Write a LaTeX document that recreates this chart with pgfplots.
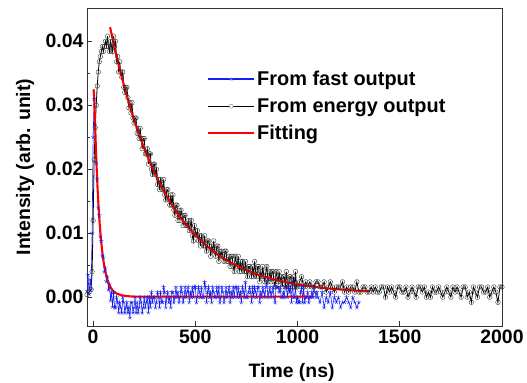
\documentclass[border=0pt]{standalone}
\usepackage{fontspec}
\setmainfont{Liberation Sans}
\usepackage{pgfplots}
\pgfplotsset{compat=1.18}
\definecolor{fastblue}{RGB}{20,30,240}
\newcommand{\bigf}{\fontsize{19.5}{23}\selectfont\bfseries}
\newcommand{\legf}{\fontsize{20}{23}\selectfont\bfseries}
\begin{document}
\begin{tikzpicture}
\begin{axis}[
  set layers,
  scale only axis, width=415bp, height=318bp,
  xmin=-30, xmax=2000, ymin=-0.0045, ymax=0.0452,
  xtick={0,500,1000,1500,2000},
  ytick={0,0.01,0.02,0.03,0.04},
  minor y tick num=1,
  tick pos=left, tick align=inside,
  major tick length=5bp, minor tick length=3bp,
  scaled y ticks=false,
  /pgf/number format/assume math mode=true,
  xticklabel style={/pgf/number format/1000 sep={}},
  yticklabel style={/pgf/number format/.cd,fixed,fixed zerofill,precision=2},
  tick label style={font=\bigf},
  label style={font=\bigf},
  axis line style={line width=0.9bp, black!80},
  every tick/.style={line width=0.8bp, black!80},
  xlabel={Time (ns)}, ylabel={Intensity (arb. unit)},
  xlabel style={at={(axis description cs:0.493,-0.145)},anchor=center},
  ylabel style={at={(axis description cs:-0.149,0.5)},anchor=center},
  legend style={at={(axis description cs:0.289,0.808)}, anchor=north west, draw=none, fill=none, font=\legf, row sep=7.5bp, inner sep=0pt},
  legend cell align=left,
]
% fast output data
\addplot[fastblue, line width=0.6bp, mark=star, mark size=2.3bp, mark options={line width=0.35bp},
  legend image code/.code={\path[draw=fastblue, line width=1.6bp] (0bp,0bp) -- (46bp,0bp); \path[draw=blue!50, line width=0.4bp] plot[mark=star, mark size=2bp] coordinates {(23bp,0bp)};}] coordinates {
(-30,0.0010)(-25,0.0035)(-20,0.0005)(-15,0.0028)(-10,0.0012)(-5,0.0100)(0,0.0250)(5,0.0310)(10,0.0270)(15,0.0210)(20,0.0185)(25,0.0140)(30,0.0128)(35,0.0095)(40,0.0088)(45,0.0065)(50,0.0062)(55,0.0040)(60,0.0045)(65,0.0025)(70,0.0032)(75,0.0012)(80,0.0020)(85,-0.0005)(90,0.0008)(95,-0.0015)
(100,0.0008)(105,-0.0016)(110,-0.0016)(115,0.0000)(120,-0.0008)(125,-0.0024)(130,-0.0008)(135,-0.0016)(140,-0.0024)(145,0.0000)
(150,-0.0008)(155,-0.0024)(160,-0.0016)(165,-0.0008)(170,-0.0024)(175,-0.0016)(180,-0.0032)(185,-0.0008)(190,-0.0008)(195,-0.0024)
(200,-0.0016)(205,0.0000)(210,-0.0024)(215,-0.0008)(220,-0.0024)(225,-0.0016)(230,0.0000)(235,-0.0008)(240,-0.0024)(245,-0.0016)
(250,0.0000)(255,-0.0016)(260,-0.0008)(265,0.0000)(270,-0.0024)(275,0.0000)(280,-0.0016)(285,0.0008)(290,-0.0008)(295,0.0000)
(300,0.0000)(305,-0.0016)(310,-0.0008)(315,0.0008)(320,0.0000)(325,-0.0016)(330,0.0008)(335,-0.0008)(340,-0.0008)(345,0.0016)
(350,0.0008)(355,-0.0016)(360,0.0000)(365,0.0008)(370,-0.0008)(375,0.0000)(380,-0.0016)(385,0.0008)(390,0.0008)(395,-0.0008)
(400,0.0000)(405,0.0016)(410,0.0000)(415,0.0008)(420,-0.0008)(425,0.0000)(430,0.0016)(435,0.0008)(440,-0.0008)(445,0.0000)
(450,0.0016)(455,0.0000)(460,0.0008)(465,0.0016)(470,-0.0008)(475,0.0008)(480,0.0000)(485,0.0016)(490,0.0000)(495,0.0016)
(500,0.0016)(505,-0.0008)(510,0.0000)(515,0.0016)(520,0.0008)(525,0.0000)(530,0.0016)(535,0.0000)(540,0.0000)(545,0.0024)
(550,0.0016)(555,-0.0008)(560,0.0008)(565,0.0016)(570,0.0000)(575,0.0008)(580,-0.0008)(585,0.0016)(590,0.0008)(595,0.0000)
(600,0.0000)(605,0.0016)(610,0.0000)(615,0.0016)(620,-0.0008)(625,0.0000)(630,0.0016)(635,0.0008)(640,-0.0008)(645,0.0000)
(650,0.0016)(655,0.0000)(660,0.0008)(665,0.0016)(670,-0.0008)(675,0.0008)(680,0.0000)(685,0.0016)(690,0.0000)(695,0.0016)
(700,0.0016)(705,0.0000)(710,0.0016)(715,0.0000)(720,0.0008)(725,-0.0008)(730,0.0016)(735,0.0008)(740,0.0000)(745,0.0024)
(750,0.0000)(755,0.0000)(760,0.0008)(765,0.0016)(770,0.0008)(775,-0.0008)(780,0.0016)(785,0.0000)(790,0.0016)(795,0.0008)
(800,0.0000)(805,0.0016)(810,0.0016)(815,-0.0008)(820,0.0008)(825,0.0000)(830,0.0016)(835,0.0008)(840,0.0000)(845,0.0016)
(850,0.0024)(855,0.0000)(860,0.0008)(865,0.0016)(870,0.0000)(875,0.0008)(880,0.0016)(885,0.0000)(890,-0.0008)(895,0.0016)
(900,0.0016)(905,0.0016)(910,0.0008)(915,0.0016)(920,0.0000)(925,0.0000)(930,0.0008)(935,0.0000)(940,0.0016)(945,0.0016)
(950,0.0000)(955,0.0016)(960,0.0008)(965,0.0016)(970,-0.0008)(975,0.0024)(980,0.0000)(985,0.0000)(990,0.0016)(995,-0.0008)
(1000,0.0000)(1005,-0.0008)(1010,-0.0008)(1015,0.0008)(1020,0.0016)(1025,-0.0008)(1030,0.0016)(1035,-0.0008)(1040,0.0000)(1045,0.0000)
(1050,0.0008)(1055,-0.0008)(1060,0.0000)(1065,0.0000)(1070,0.0008)(1075,0.0000)(1080,0.0016)(1085,0.0008)(1090,0.0000)(1095,0.0008)
(1100,0.0000)(1110,-0.0008)(1120,0.0008)(1130,-0.0016)(1140,0.0000)(1150,-0.0008)(1160,0.0008)(1170,-0.0016)(1180,0.0000)(1190,-0.0008)
(1200,0.0000)(1210,-0.0016)(1220,-0.0008)(1230,-0.0008)(1240,0.0000)(1250,-0.0008)(1260,-0.0016)(1270,0.0000)(1280,-0.0008)(1290,-0.0016)(1300,-0.0008)
};
\addlegendentry{From fast output}

% energy output data, drawn beneath the fast output
\addplot[on layer=axis background, black, line width=0.8bp, mark=o, mark size=2.3bp, mark options={line width=0.35bp, draw=black!85},
  legend image code/.code={\path[draw=black, line width=0.6bp] (0bp,0bp) -- (46bp,0bp); \path[draw=gray, fill=white, line width=0.4bp] (23bp,0bp) circle[radius=2bp];}] coordinates {
(-30,0.0004)(-20,0.0008)(-10,0.0012)(-5,0.0040)(0,0.0120)(5,0.0215)(10,0.0265)(15,0.0300)(20,0.0330)(25,0.0352)(30,0.0368)(35,0.0376)(40,0.0384)(45,0.0392)(50,0.0384)(55,0.0392)(60,0.0400)(65,0.0392)(70,0.0408)(75,0.0392)(80,0.0384)(85,0.0400)(90,0.0392)(95,0.0384)
(100,0.0408)(105,0.0392)(110,0.0400)(115,0.0368)(120,0.0376)(125,0.0352)(130,0.0368)(135,0.0352)(140,0.0344)(145,0.0352)
(150,0.0328)(155,0.0320)(160,0.0328)(165,0.0328)(170,0.0312)(175,0.0296)(180,0.0304)(185,0.0288)(190,0.0304)(195,0.0280)
(200,0.0272)(205,0.0280)(210,0.0280)(215,0.0256)(220,0.0264)(225,0.0248)(230,0.0264)(235,0.0248)(240,0.0232)(245,0.0248)
(250,0.0248)(255,0.0224)(260,0.0224)(265,0.0232)(270,0.0208)(275,0.0224)(280,0.0224)(285,0.0200)(290,0.0192)(295,0.0208)
(300,0.0208)(305,0.0192)(310,0.0200)(315,0.0176)(320,0.0184)(325,0.0168)(330,0.0184)(335,0.0176)(340,0.0168)(345,0.0184)
(350,0.0160)(355,0.0152)(360,0.0168)(365,0.0168)(370,0.0152)(375,0.0144)(380,0.0160)(385,0.0144)(390,0.0160)(395,0.0136)
(400,0.0128)(405,0.0144)(410,0.0144)(415,0.0120)(420,0.0136)(425,0.0120)(430,0.0136)(435,0.0128)(440,0.0112)(445,0.0128)
(450,0.0128)(455,0.0112)(460,0.0112)(465,0.0120)(470,0.0104)(475,0.0112)(480,0.0120)(485,0.0096)(490,0.0088)(495,0.0112)
(500,0.0104)(505,0.0096)(510,0.0104)(515,0.0088)(520,0.0096)(525,0.0080)(530,0.0096)(535,0.0088)(540,0.0080)(545,0.0096)
(550,0.0080)(555,0.0072)(560,0.0088)(565,0.0088)(570,0.0080)(575,0.0064)(580,0.0080)(585,0.0072)(590,0.0088)(595,0.0072)
(600,0.0064)(605,0.0080)(610,0.0080)(615,0.0056)(620,0.0072)(625,0.0064)(630,0.0072)(635,0.0064)(640,0.0056)(645,0.0072)
(650,0.0072)(655,0.0056)(660,0.0056)(665,0.0064)(670,0.0048)(675,0.0064)(680,0.0064)(685,0.0048)(690,0.0040)(695,0.0064)
(700,0.0056)(705,0.0048)(710,0.0064)(715,0.0040)(720,0.0056)(725,0.0040)(730,0.0056)(735,0.0048)(740,0.0040)(745,0.0056)
(750,0.0040)(755,0.0032)(760,0.0048)(765,0.0048)(770,0.0040)(775,0.0032)(780,0.0048)(785,0.0032)(790,0.0056)(795,0.0040)
(800,0.0032)(805,0.0048)(810,0.0048)(815,0.0024)(820,0.0040)(825,0.0032)(830,0.0048)(835,0.0032)(840,0.0024)(845,0.0040)
(850,0.0048)(855,0.0024)(860,0.0032)(865,0.0040)(870,0.0024)(875,0.0040)(880,0.0040)(885,0.0024)(890,0.0016)(895,0.0040)
(900,0.0032)(905,0.0024)(910,0.0040)(915,0.0024)(920,0.0032)(925,0.0016)(930,0.0032)(935,0.0032)(940,0.0016)(945,0.0040)
(950,0.0024)(955,0.0016)(960,0.0032)(965,0.0032)(970,0.0024)(975,0.0016)(980,0.0032)(985,0.0016)(990,0.0040)(995,0.0016)
(1000,0.0016)(1010,0.0024)(1020,0.0032)(1030,0.0016)(1040,0.0024)(1050,0.0016)(1060,0.0024)(1070,0.0016)(1080,0.0016)(1090,0.0024)
(1100,0.0024)(1110,0.0016)(1120,0.0016)(1130,0.0024)(1140,0.0008)(1150,0.0016)(1160,0.0024)(1170,0.0016)(1180,0.0008)(1190,0.0016)
(1200,0.0016)(1210,0.0016)(1220,0.0024)(1230,0.0008)(1240,0.0016)(1250,0.0008)(1260,0.0016)(1270,0.0016)(1280,0.0008)(1290,0.0024)
(1300,0.0008)(1310,0.0008)(1320,0.0016)(1330,0.0016)(1340,0.0008)(1350,0.0008)(1360,0.0016)(1370,0.0008)(1380,0.0016)(1390,0.0008)
(1400,0.0008)(1410,0.0016)(1420,0.0016)(1430,0.0000)(1440,0.0016)(1450,0.0008)(1460,0.0016)(1470,0.0008)(1480,0.0000)(1490,0.0016)
(1500,0.0016)(1510,0.0008)(1520,0.0008)(1530,0.0016)(1540,0.0000)(1550,0.0008)(1560,0.0016)(1570,0.0008)(1580,0.0000)(1590,0.0016)
(1600,0.0016)(1610,0.0008)(1620,0.0016)(1630,0.0000)(1640,0.0008)(1650,0.0000)(1660,0.0016)(1670,0.0008)(1680,0.0008)(1690,0.0016)
(1700,0.0008)(1710,0.0000)(1720,0.0008)(1730,0.0016)(1740,0.0008)(1750,0.0000)(1760,0.0016)(1770,0.0008)(1780,0.0016)(1790,0.0008)
(1800,0.0000)(1810,0.0016)(1820,0.0016)(1830,0.0000)(1840,0.0008)(1850,-0.0008)(1860,0.0016)(1870,0.0008)(1880,0.0000)(1890,0.0016)
(1900,0.0016)(1910,0.0008)(1920,0.0008)(1930,0.0016)(1940,0.0000)(1950,0.0008)(1960,0.0016)(1970,0.0008)(1980,-0.0008)(1990,0.0016)(2000,0.0016)
};
\addlegendentry{From energy output}

% fits
\addplot[red, line width=2.1bp, smooth,
  legend image code/.code={\path[draw=red, line width=2.1bp] (0bp,0bp) -- (46bp,0bp);}] coordinates {
(83,0.0422)(90,0.04116)(100,0.03971)(120,0.03697)(140,0.03442)(160,0.03205)(180,0.02984)(200,0.02779)(220,0.02588)(240,0.02411)(260,0.02246)(280,0.02093)(300,0.01950)(320,0.01817)(340,0.01693)(360,0.01579)(380,0.01472)(400,0.01372)(420,0.01280)(440,0.01194)(460,0.01114)(480,0.01040)(500,0.00970)(550,0.00818)(600,0.00691)(650,0.00585)(700,0.00496)(750,0.00422)(800,0.00360)(850,0.00309)(900,0.00266)(950,0.00230)(1000,0.00200)(1050,0.00175)(1100,0.00155)(1150,0.00137)(1200,0.00123)(1250,0.00111)(1300,0.00101)(1350,0.00092)
};
\addlegendentry{Fitting}
\addplot[forget plot, red, line width=2.1bp, smooth] coordinates {
(2,0.0325)(5,0.0312)(10,0.0267)(15,0.0220)(20,0.0182)(25,0.0150)(30,0.0124)(35,0.0103)(40,0.0085)(50,0.0058)(60,0.0040)(70,0.0027)(80,0.0019)(90,0.0013)(100,0.0009)(120,0.0005)(140,0.0003)(160,0.0002)(200,0.0001)(300,0.0001)(1080,0.0001)
};
\end{axis}
\pgfresetboundingbox
\path[use as bounding box] (-87bp,-57bp) rectangle (440bp,326bp);
\end{tikzpicture}
\end{document}
